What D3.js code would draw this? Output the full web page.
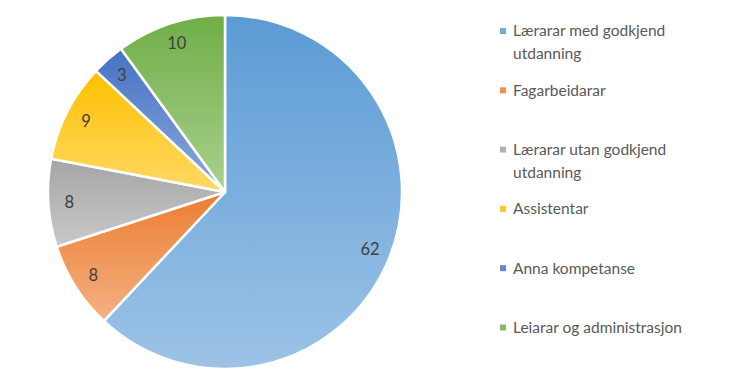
<!DOCTYPE html>
<html>
<head>
<meta charset="utf-8">
<script src="https://cdn.jsdelivr.net/npm/d3@7"></script>
<style>
  body { margin: 0; background: #fff; }
  text { font-family: Lato, "Open Sans", sans-serif; }
</style>
</head>
<body>
<div id="canvas"></div>
<script>
const labels = [
  ["Lærarar med godkjend", "utdanning"],
  ["Fagarbeidarar"],
  ["Lærarar utan godkjend", "utdanning"],
  ["Assistentar"],
  ["Anna kompetanse"],
  ["Leiarar og administrasjon"]
];
const values = [62, 8, 8, 9, 3, 10];
const topColors = ["#5b9bd5", "#ed7d31", "#a5a5a5", "#ffc000", "#4472c4", "#70ad47"];
const bottomColors = ["#9dc3e6", "#f4b183", "#c9c9c9", "#ffd966", "#8faadc", "#a9d18e"];

const width = 750;
const height = 382;
const cx = 225, cy = 192, radius = 177;

const svg = d3.select("#canvas").append("svg")
  .attr("width", width)
  .attr("height", height);

const defs = svg.append("defs");
values.forEach((v, i) => {
  const grad = defs.append("linearGradient")
    .attr("id", "grad" + i)
    .attr("x1", 0).attr("y1", 0).attr("x2", 0).attr("y2", 1);
  grad.append("stop").attr("offset", "0%").attr("stop-color", topColors[i]);
  grad.append("stop").attr("offset", "100%").attr("stop-color", bottomColors[i]);
});

const pie = d3.pie().sort(null).value(d => d);
const arcs = pie(values);
const arc = d3.arc().innerRadius(0).outerRadius(radius);
const labelArc = d3.arc().innerRadius(156).outerRadius(156);

const g = svg.append("g").attr("transform", `translate(${cx},${cy})`);

g.selectAll("path").data(arcs).enter().append("path")
  .attr("d", arc)
  .attr("fill", (d, i) => `url(#grad${i})`)
  .attr("stroke", "#fff")
  .attr("stroke-width", 2.5)
  .attr("stroke-linejoin", "round");

g.selectAll("text.val").data(arcs).enter().append("text")
  .attr("class", "val")
  .attr("transform", d => `translate(${labelArc.centroid(d)})`)
  .attr("text-anchor", "middle")
  .attr("dy", "0.35em")
  .attr("font-size", 16.5)
  .attr("fill", "#404040")
  .text(d => d.data);

// legend
const legend = svg.append("g").attr("transform", "translate(500,31)");
const item = legend.selectAll("g").data(labels).enter().append("g")
  .attr("transform", (d, i) => `translate(0,${i * 59.3})`);

item.append("rect")
  .attr("x", 0).attr("y", -3)
  .attr("width", 6).attr("height", 6)
  .attr("fill", (d, i) => d3.interpolateRgb(topColors[i], bottomColors[i])(0.4));

item.each(function (d) {
  const t = d3.select(this).append("text")
    .attr("x", 13)
    .attr("font-size", 15.5)
    .attr("fill", "#595959");
  d.forEach((line, j) => {
    t.append("tspan")
      .attr("x", 13)
      .attr("y", j * 22.5)
      .attr("dy", "0.35em")
      .text(line);
  });
});
</script>
</body>
</html>
